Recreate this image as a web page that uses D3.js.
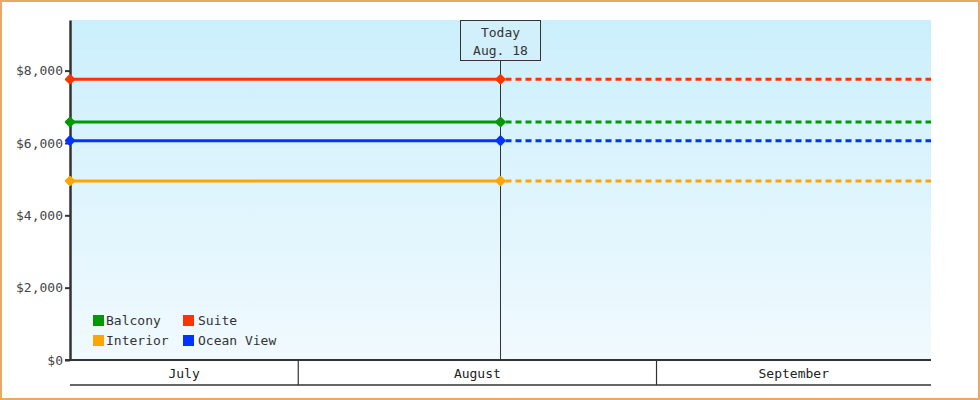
<!DOCTYPE html>
<html><head><meta charset="utf-8">
<script src="https://cdn.jsdelivr.net/npm/d3@7/dist/d3.min.js"></script>
<style>
html,body{margin:0;padding:0;background:#fff;}
svg{display:block;font-family:"DejaVu Sans Mono",monospace;}
</style></head>
<body>
<svg id="chart" width="980" height="400"></svg>
<script>
// ---- data ----
const categories = ["Balcony", "Suite", "Interior", "Ocean View"];
const prices = [6580, 7760, 4950, 6065];
const seriesColors = ["#009900", "#ff3300", "#ffa500", "#0033ff"];
const yTicks = [0, 2000, 4000, 6000, 8000];
const monthLabels = ["July", "August", "September"];
const todayLabel = ["Today", "Aug. 18"];
const startDate = new Date(2024, 6, 12, 6);
const todayDate = new Date(2024, 7, 18, 12);
const endDate = new Date(2024, 8, 24, 18);
const yMax = 9400;

// ---- layout ----
const svg = d3.select("#chart");
const L = 70, R = 931, T = 20, B = 360;
const x = d3.scaleTime().domain([startDate, endDate]).range([L, R]);
const y = d3.scaleLinear().domain([0, yMax]).range([B, T]);

// frame
svg.append("rect").attr("x", 1).attr("y", 1).attr("width", 978).attr("height", 398)
  .attr("fill", "#fff").attr("stroke", "#e8a964").attr("stroke-width", 2);

// gradient background
const defs = svg.append("defs");
const g = defs.append("linearGradient").attr("id", "bg").attr("x1", 0).attr("y1", 0).attr("x2", 0).attr("y2", 1);
g.append("stop").attr("offset", "0%").attr("stop-color", "#cbeffc");
g.append("stop").attr("offset", "100%").attr("stop-color", "#f1fafe");
svg.append("rect").attr("x", L).attr("y", T).attr("width", R - L).attr("height", B - T).attr("fill", "url(#bg)");

// today marker line
svg.append("line").attr("x1", x(todayDate)).attr("x2", x(todayDate))
  .attr("y1", 60).attr("y2", B).attr("stroke", "#333").attr("stroke-width", 1);

// series lines
const line = d3.line().x(d => x(d[0])).y(d => y(d[1]));
categories.forEach((c, i) => {
  const v = prices[i];
  svg.append("path").datum([[startDate, v], [todayDate, v]]).attr("d", line)
    .attr("fill", "none").attr("stroke", seriesColors[i]).attr("stroke-width", 3);
  svg.append("path").datum([[todayDate, v], [endDate, v]]).attr("d", line)
    .attr("fill", "none").attr("stroke", seriesColors[i]).attr("stroke-width", 3)
    .attr("stroke-dasharray", "6,4").attr("stroke-dashoffset", -5);
});

// y axis
const yAxis = svg.append("g").attr("transform", `translate(${L},0)`)
  .call(d3.axisLeft(y).tickValues(yTicks).tickFormat(d3.format("$,")).tickSize(5).tickSizeOuter(0));
yAxis.select(".domain").attr("stroke", "#333").attr("stroke-width", 2.5);
yAxis.selectAll(".tick line").attr("stroke", "#333").attr("stroke-width", 2);
yAxis.selectAll(".tick text").attr("font-family", "DejaVu Sans Mono").attr("font-size", 13)
  .attr("fill", "#444").attr("x", -7);

// markers
categories.forEach((c, i) => {
  [startDate, todayDate].forEach(dt => {
    svg.append("path").attr("transform", `translate(${x(dt)},${y(prices[i])}) rotate(45)`)
      .attr("d", d3.symbol(d3.symbolSquare, 30)).attr("fill", seriesColors[i])
      .attr("stroke", seriesColors[i]).attr("stroke-width", 2.5).attr("stroke-linejoin", "round");
  });
});

// x month band
svg.append("line").attr("x1", L - 5).attr("x2", R).attr("y1", B).attr("y2", B).attr("stroke", "#333").attr("stroke-width", 2);
svg.append("line").attr("x1", L).attr("x2", R).attr("y1", 385).attr("y2", 385).attr("stroke", "#333").attr("stroke-width", 1.5);
const monthStarts = d3.timeMonth.range(d3.timeMonth.floor(startDate), endDate);
monthStarts.forEach((m, i) => {
  const a = Math.max(x(m), L), b = Math.min(x(d3.timeMonth.offset(m, 1)), R);
  if (x(m) > L) {
    svg.append("line").attr("x1", x(m)).attr("x2", x(m)).attr("y1", B).attr("y2", 385)
      .attr("stroke", "#333").attr("stroke-width", 1.2);
  }
  svg.append("text").attr("x", (a + b) / 2).attr("y", 378).attr("text-anchor", "middle")
    .attr("font-size", 13).attr("fill", "#222").text(monthLabels[i]);
});

// today box
const tx = x(todayDate);
svg.append("rect").attr("x", tx - 40).attr("y", 20.5).attr("width", 80).attr("height", 40)
  .attr("fill", "#d2f0fb").attr("stroke", "#333").attr("stroke-width", 1);
todayLabel.forEach((t, i) => {
  svg.append("text").attr("x", tx).attr("y", 37 + i * 18).attr("text-anchor", "middle")
    .attr("font-size", 13).attr("fill", "#333").text(t);
});

// legend (2 columns)
const legendOrder = [0, 1, 2, 3];
legendOrder.forEach((idx, k) => {
  const col = k % 2, row = Math.floor(k / 2);
  const lx = 93 + col * 90, ly = 315 + row * 20;
  svg.append("rect").attr("x", lx).attr("y", ly).attr("width", 11).attr("height", 11).attr("fill", seriesColors[idx]);
  svg.append("text").attr("x", lx + 13 + col * 2).attr("y", ly + 10).attr("font-size", 13).attr("fill", "#333").text(categories[idx]);
});
</script>
</body></html>
